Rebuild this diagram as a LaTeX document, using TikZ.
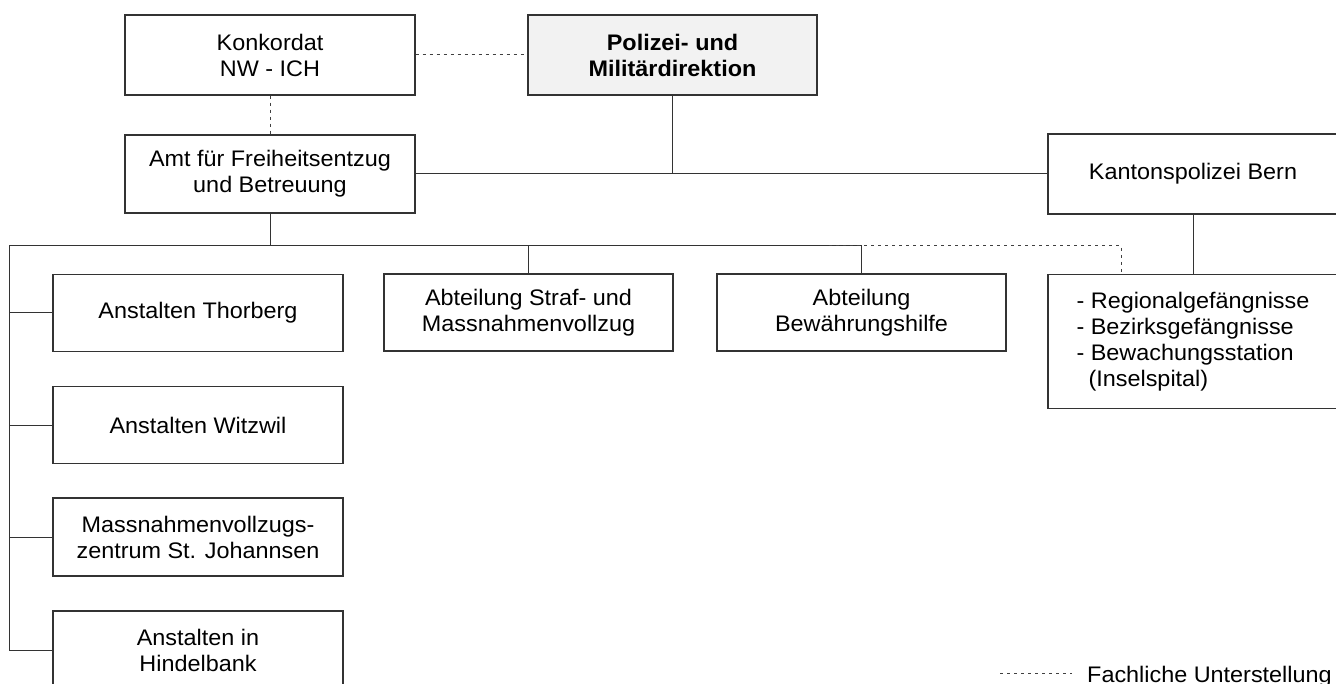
\documentclass[tikz,border=0pt]{standalone}
\usepackage{fontspec}
\setmainfont{Liberation Sans}[FakeStretch=1.04]
\begin{document}
\begin{tikzpicture}[x=1pt,y=-1pt,
  every node/.style={font=\fontsize{22.5}{26}\selectfont},
  box/.style={draw=black!80,line width=1.1pt,inner sep=0pt,minimum width=290pt,minimum height=78pt,align=center},
  conn/.style={draw=black!80,line width=1pt},
  dotline/.style={draw=black!75,line width=1pt,dash pattern=on 3pt off 4pt}]
\useasboundingbox (0,0) rectangle (1336,684);
\clip (0,0) rectangle (1336,684);
% top row
\node[box,minimum height=80pt] (konk) at (270,55) {Konkordat\\NW - ICH};
\node[box,minimum height=80pt,minimum width=289pt,fill=black!5,font=\fontsize{22.5}{26}\selectfont\bfseries] (pmd) at (672.5,55) {Polizei- und\\Militärdirektion};
\node[box] (amt) at (270,174) {Amt für Freiheitsentzug\\und Betreuung};
\node[box,minimum height=80pt] (kapo) at (1193,174) {Kantonspolizei Bern};
% second row
\node[box,minimum height=77pt] (thor) at (198,313) {Anstalten Thorberg};
\node[box,minimum height=77pt,minimum width=289pt] (straf) at (528.5,312.5) {Abteilung Straf- und\\Massnahmenvollzug};
\node[box,minimum height=77pt,minimum width=289pt] (bew) at (861.5,312.5) {Abteilung\\Bewährungshilfe};
\node[box,minimum height=134pt,align=left] (pris) at (1193,341.5) {- Regionalgefängnisse\\- Bezirksgefängnisse\\- Bewachungsstation\\\hspace{12pt}(Inselspital)};
% left column
\node[box,minimum height=77pt] (witz) at (198,425) {Anstalten Witzwil};
\node[box] (mass) at (198,537) {Massnahmenvollzugs-\\zentrum St. Johannsen};
\node[box] (hind) at (198,650) {Anstalten in\\Hindelbank};
% coordinates
\coordinate (busL) at (9,246);
\coordinate (dotS) at (829,246);
% connectors
\draw[dotline] (konk.east) -- (pmd.west);
\draw[dotline] (konk.south) -- (amt.north);
\draw[conn] (pmd.south) -- (pmd.south |- amt.east);
\draw[conn] (amt.east) -- (kapo.west);
\draw[conn] (amt.south) -- (amt.south |- busL);
\draw[conn] (busL) -- (bew.north |- busL) -- (bew.north);
\draw[conn] (straf.north |- busL) -- (straf.north);
\draw[conn] (busL) -- (busL |- hind.west) -- (hind.west);
\draw[conn] (busL |- thor.west) -- (thor.west);
\draw[conn] (busL |- witz.west) -- (witz.west);
\draw[conn] (busL |- mass.west) -- (mass.west);
\draw[conn] (kapo.south) -- (pris.north);
\draw[dotline] (dotS) -| ([xshift=-72pt]pris.north);
% legend
\coordinate (lgA) at (1000,673);
\coordinate (lgB) at (1072,673);
\draw[dotline] (lgA) -- (lgB);
\node[anchor=base west,inner sep=0pt] (legend) at (1087,682) {Fachliche Unterstellung};
\end{tikzpicture}
\end{document}
